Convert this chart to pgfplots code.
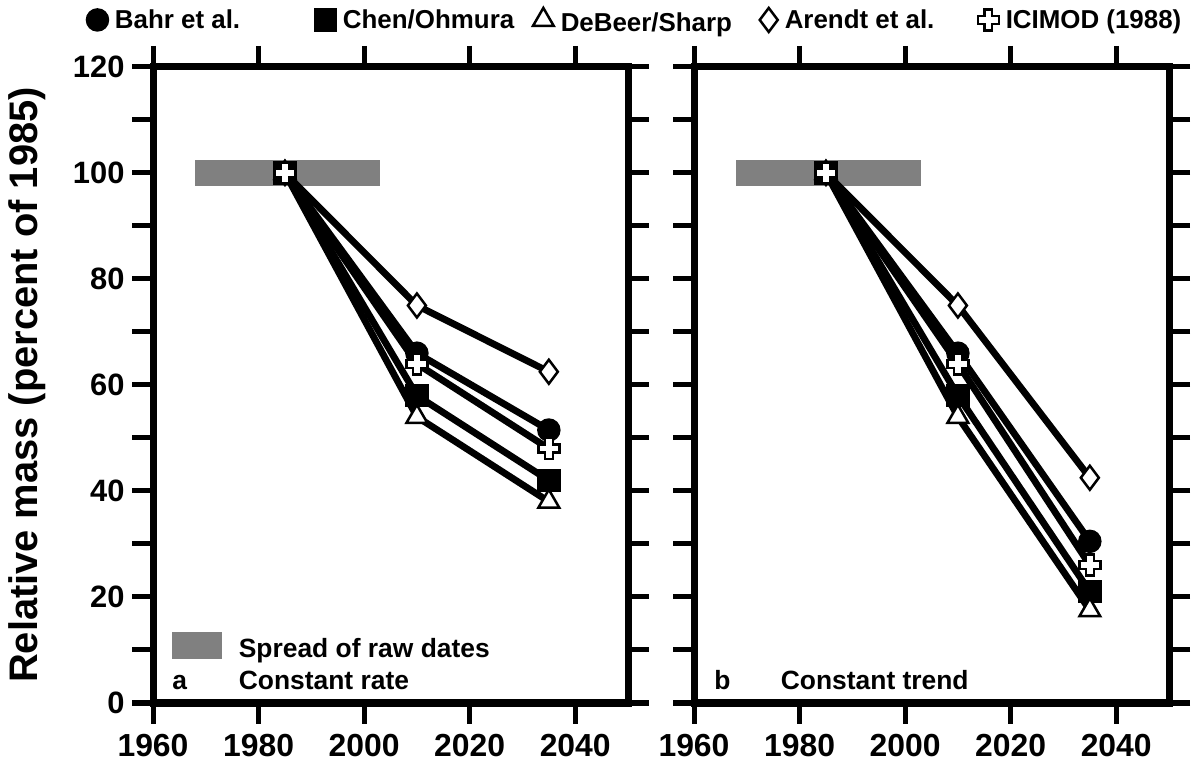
\documentclass[border=0pt]{standalone}
\usepackage{fontspec}
\setmainfont{Liberation Sans}
\usepackage{pgfplots}
\usepackage{pgfplotstable}
\pgfplotsset{compat=1.18}

% white plus with black outline (ICIMOD)
\pgfdeclareplotmark{fatplus}{%
  \pgfpathmoveto{\pgfqpoint{-0.38\pgfplotmarksize}{\pgfplotmarksize}}%
  \pgfpathlineto{\pgfqpoint{0.38\pgfplotmarksize}{\pgfplotmarksize}}%
  \pgfpathlineto{\pgfqpoint{0.38\pgfplotmarksize}{0.38\pgfplotmarksize}}%
  \pgfpathlineto{\pgfqpoint{\pgfplotmarksize}{0.38\pgfplotmarksize}}%
  \pgfpathlineto{\pgfqpoint{\pgfplotmarksize}{-0.38\pgfplotmarksize}}%
  \pgfpathlineto{\pgfqpoint{0.38\pgfplotmarksize}{-0.38\pgfplotmarksize}}%
  \pgfpathlineto{\pgfqpoint{0.38\pgfplotmarksize}{-\pgfplotmarksize}}%
  \pgfpathlineto{\pgfqpoint{-0.38\pgfplotmarksize}{-\pgfplotmarksize}}%
  \pgfpathlineto{\pgfqpoint{-0.38\pgfplotmarksize}{-0.38\pgfplotmarksize}}%
  \pgfpathlineto{\pgfqpoint{-\pgfplotmarksize}{-0.38\pgfplotmarksize}}%
  \pgfpathlineto{\pgfqpoint{-\pgfplotmarksize}{0.38\pgfplotmarksize}}%
  \pgfpathlineto{\pgfqpoint{-0.38\pgfplotmarksize}{0.38\pgfplotmarksize}}%
  \pgfpathclose
  \pgfusepathqfillstroke}

% relative mass, percent of 1985
\pgfplotstableread{
year  bahr  chen  debeer  arendt  icimod
1985  100   100   100     100     100
2010  66    58    54      75      64
2035  51.5  42    38      62.5    48
}\rateA
\pgfplotstableread{
year  bahr  chen  debeer  arendt  icimod
1985  100   100   100     100     100
2010  66    58    54      75      64
2035  30.5  21    17.5    42.5    26
}\trendB

\tikzset{paneltext/.style={anchor=base west, font=\bfseries\fontsize{26.5}{26.5}\selectfont}}

\pgfplotsset{
  panel/.style={
    scale only axis, width=475bp, height=636bp,
    xmin=1960, xmax=2050, ymin=0, ymax=120,
    xtick={1960,1980,...,2040}, ytick={0,20,...,120}, minor y tick num=1,
    tick align=outside,
    major tick length=21bp, minor tick length=21bp,
    axis line style={line width=7bp},
    every tick/.style={black, line width=5bp},
    every minor tick/.style={black, line width=5bp},
    /pgf/number format/assume math mode=true,
    /pgf/number format/1000 sep={},
    x tick label style={font=\bfseries\fontsize{32}{32}\selectfont, yshift=-7bp},
    y tick label style={font=\bfseries\fontsize{31}{31}\selectfont, xshift=-4bp},
  },
  ser/.style={black, line width=6.8bp, mark size=10.5bp},
  bahr/.style={ser, mark=*, /tikz/every mark/.append style={solid, fill=black, line width=2.5bp}},
  chen/.style={ser, mark=square*, /tikz/every mark/.append style={solid, fill=black, line width=2.5bp}},
  debeer/.style={ser, mark=triangle*, mark size=12bp, /tikz/every mark/.append style={solid, fill=white, line width=2.5bp}},
  arendt/.style={ser, mark=diamond*, mark size=12bp, /tikz/every mark/.append style={solid, fill=white, line width=2.5bp}},
  icimod/.style={ser, mark=fatplus, /tikz/every mark/.append style={solid, fill=white, line width=2.5bp}},
}

\begin{document}
\begin{tikzpicture}
\useasboundingbox (0,0) rectangle (1192bp,769bp);

\begin{axis}[panel, at={(153bp,66bp)}, anchor=south west,
  ylabel={Relative mass (percent of 1985)},
  ylabel style={at={(axis description cs:-0.265,0.5)}, anchor=center,
    font=\bfseries\fontsize{40}{40}\selectfont},
  legend columns=5,
  legend cell align=left,
  legend image code/.code={\draw[#1, only marks] plot coordinates {(0bp,0bp)};},
  legend style={at={(axis description cs:-0.139,1.074)}, anchor=west,
    draw=none, fill=none, inner sep=0pt, outer sep=0pt,
    font=\bfseries\fontsize{26}{26}\selectfont,
    nodes={inner sep=0pt},
    /tikz/every odd column/.style={column sep=7bp}},
]
\addlegendimage{bahr}
\addlegendentry{\makebox[200bp][l]{Bahr et al.}}
\addlegendimage{chen}
\addlegendentry{\makebox[190bp][l]{Chen/Ohmura}}
\addlegendimage{debeer}
\addlegendentry{\makebox[199bp][l]{\raisebox{-5bp}{DeBeer/Sharp}}}
\addlegendimage{arendt}
\addlegendentry{\makebox[193bp][l]{Arendt et al.}}
\addlegendimage{icimod}
\addlegendentry{ICIMOD (1988)}

\addplot[fill=gray, draw=none, forget plot] coordinates {(1968,97.5) (2003,97.5) (2003,102.5) (1968,102.5)} -- cycle;
\addplot[fill=gray, draw=none, forget plot] coordinates {(1963.6,8.3) (1973.1,8.3) (1973.1,13.4) (1963.6,13.4)} -- cycle;

\addplot[bahr, forget plot] table[x=year, y=bahr] {\rateA};
\addplot[chen, forget plot] table[x=year, y=chen] {\rateA};
\addplot[debeer, forget plot] table[x=year, y=debeer] {\rateA};
\addplot[arendt, forget plot] table[x=year, y=arendt] {\rateA};
\addplot[icimod, forget plot] table[x=year, y=icimod] {\rateA};

\node[paneltext] at (axis cs:1975.6,8.5) {Spread of raw dates};
\node[paneltext] at (axis cs:1963.0,2.5) {a};
\node[paneltext] at (axis cs:1975.6,2.5) {Constant rate};
\end{axis}

\begin{axis}[panel, at={(694bp,66bp)}, anchor=south west, yticklabels={}]
\addplot[fill=gray, draw=none] coordinates {(1968,97.5) (2003,97.5) (2003,102.5) (1968,102.5)} -- cycle;

\addplot[bahr] table[x=year, y=bahr] {\trendB};
\addplot[chen] table[x=year, y=chen] {\trendB};
\addplot[debeer] table[x=year, y=debeer] {\trendB};
\addplot[arendt] table[x=year, y=arendt] {\trendB};
\addplot[icimod] table[x=year, y=icimod] {\trendB};

\node[paneltext] at (axis cs:1963.2,2.5) {b};
\node[paneltext] at (axis cs:1975.8,2.5) {Constant trend};
\end{axis}
\end{tikzpicture}
\end{document}
